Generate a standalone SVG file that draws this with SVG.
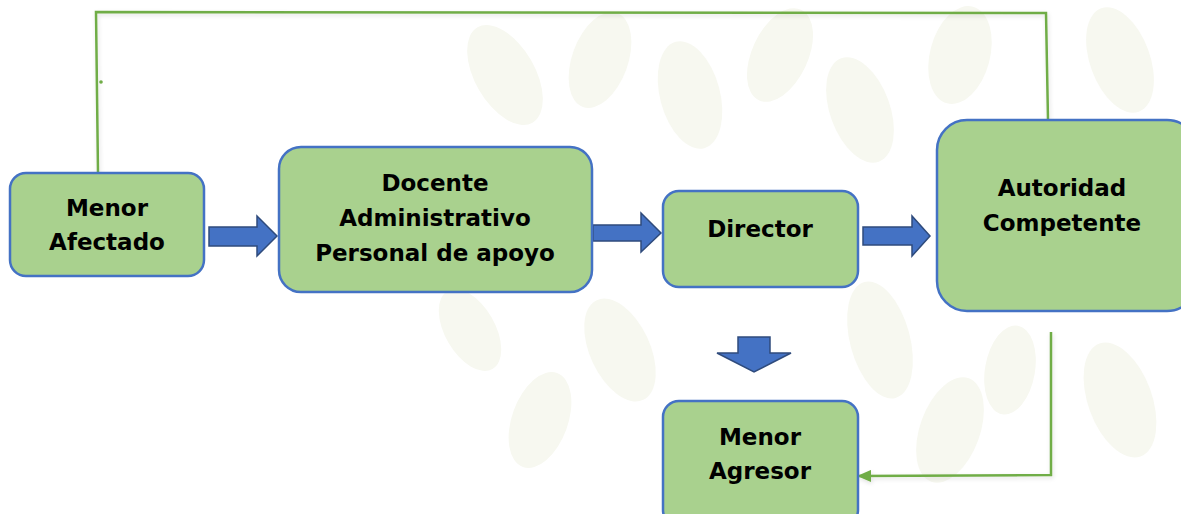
<svg xmlns="http://www.w3.org/2000/svg" width="1181" height="514" viewBox="0 0 1181 514">
<style>
.box{fill:#A9D18E;stroke:#4472C4;stroke-width:2.5}
.lbl{font-family:"DejaVu Sans","Liberation Sans",sans-serif;font-weight:bold;font-size:23px;fill:#000;text-anchor:middle}
.blk{fill:#4472C4;stroke:#2F4B7C;stroke-width:1.5;stroke-linejoin:miter}
.gl{fill:none;stroke:#70AD47;stroke-width:2.5}
.leaf{fill:#F7F8F0}
</style>
<defs>
<filter id="sh" x="-5%" y="-5%" width="110%" height="110%">
<feDropShadow dx="1" dy="2" stdDeviation="2" flood-color="#000" flood-opacity="0.12"/>
</filter>
<marker id="ah" markerWidth="14" markerHeight="12" refX="13" refY="6" orient="auto" markerUnits="userSpaceOnUse">
<path d="M0,0 L14,6 L0,12 Z" fill="#70AD47"/>
</marker>
</defs>
<rect width="1181" height="514" fill="#FFFFFF"/>
<g id="background">
<ellipse class="leaf" cx="505" cy="75" rx="30" ry="55" transform="rotate(-30 505 75)"/>
<ellipse class="leaf" cx="600" cy="60" rx="28" ry="50" transform="rotate(20 600 60)"/>
<ellipse class="leaf" cx="690" cy="95" rx="30" ry="55" transform="rotate(-15 690 95)"/>
<ellipse class="leaf" cx="780" cy="55" rx="28" ry="50" transform="rotate(25 780 55)"/>
<ellipse class="leaf" cx="860" cy="110" rx="30" ry="55" transform="rotate(-20 860 110)"/>
<ellipse class="leaf" cx="960" cy="55" rx="30" ry="50" transform="rotate(15 960 55)"/>
<ellipse class="leaf" cx="1120" cy="60" rx="30" ry="55" transform="rotate(-20 1120 60)"/>
<ellipse class="leaf" cx="620" cy="350" rx="30" ry="55" transform="rotate(-25 620 350)"/>
<ellipse class="leaf" cx="540" cy="420" rx="28" ry="50" transform="rotate(20 540 420)"/>
<ellipse class="leaf" cx="880" cy="340" rx="30" ry="60" transform="rotate(-15 880 340)"/>
<ellipse class="leaf" cx="950" cy="430" rx="30" ry="55" transform="rotate(20 950 430)"/>
<ellipse class="leaf" cx="1120" cy="400" rx="32" ry="60" transform="rotate(-20 1120 400)"/>
<ellipse class="leaf" cx="1010" cy="370" rx="25" ry="45" transform="rotate(10 1010 370)"/>
<ellipse class="leaf" cx="470" cy="330" rx="25" ry="45" transform="rotate(-30 470 330)"/>
</g>
<g id="connectors">
<g filter="url(#sh)">
<polyline class="gl" points="98,173 96,12 1046,13 1048,120"/>
<polyline class="gl" points="1051,332 1051,475 858,476" marker-end="url(#ah)"/>
</g>
<circle cx="101" cy="82" r="1.8" fill="#70AD47"/>
<path class="blk" d="M209,227 L257,227 L257,216 L277,236 L257,256 L257,246 L209,246 Z"/>
<path class="blk" d="M593,225 L641,225 L641,213 L661,233 L641,252 L641,241 L593,241 Z"/>
<path class="blk" d="M863,227 L912,227 L912,216 L930,236 L912,256 L912,245 L863,245 Z"/>
<path class="blk" d="M738,337 L770,337 L770,353 L791,353 L754,372 L717,353 L738,353 Z"/>
</g>
<g id="menor-afectado">
<rect class="box" x="10" y="173" width="194" height="103" rx="16"/>
<text class="lbl" x="107" y="216">Menor</text>
<text class="lbl" x="107" y="250">Afectado</text>
</g>
<g id="docente">
<rect class="box" x="279" y="147" width="313" height="145" rx="22"/>
<text class="lbl" x="435" y="191">Docente</text>
<text class="lbl" x="435" y="226">Administrativo</text>
<text class="lbl" x="435" y="261">Personal de apoyo</text>
</g>
<g id="director">
<rect class="box" x="663" y="191" width="195" height="96" rx="16"/>
<text class="lbl" x="760" y="237">Director</text>
</g>
<g id="autoridad">
<rect class="box" x="937" y="120" width="260" height="191" rx="30"/>
<text class="lbl" x="1062" y="196">Autoridad</text>
<text class="lbl" x="1062" y="231">Competente</text>
</g>
<g id="menor-agresor">
<rect class="box" x="663" y="401" width="195" height="125" rx="16"/>
<text class="lbl" x="760" y="445">Menor</text>
<text class="lbl" x="760" y="479">Agresor</text>
</g>
</svg>
